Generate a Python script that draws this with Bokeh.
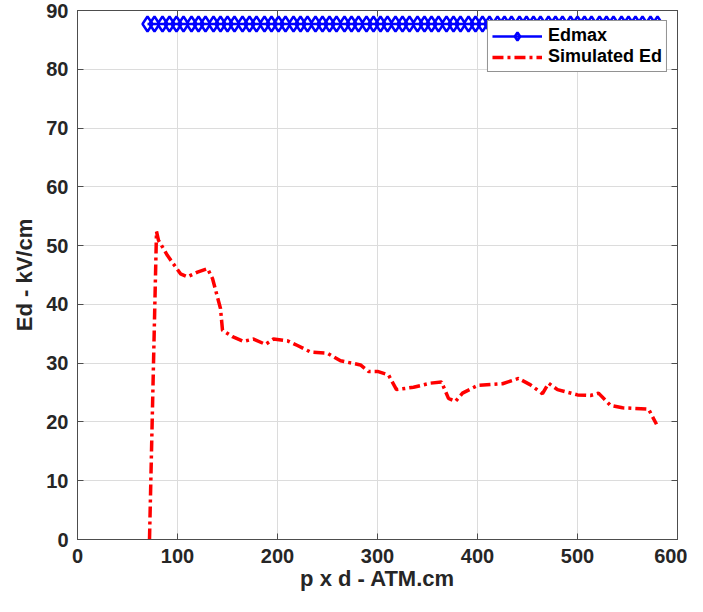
from bokeh.plotting import figure
from bokeh.models import Range1d, LinearAxis, FixedTicker, Legend, LegendItem, CustomJSTickFormatter
from bokeh.embed import file_html
from bokeh.resources import INLINE

# ---- data ----
pd_edmax = [70, 77, 85, 92, 99, 106, 114, 121, 128, 136, 143, 150, 157, 165, 172,
            179, 187, 194, 201, 208, 216, 223, 230, 238, 245, 252, 259, 267, 274,
            281, 289, 296, 303, 310, 318, 325, 332, 340, 347, 354, 361, 369, 376,
            383, 391, 398, 405, 412, 420, 427, 434, 442, 449, 456, 463, 471, 478,
            485, 493, 500, 507, 514, 522, 529, 536, 544, 551, 558, 565, 573, 580]
edmax = [87.7] * len(pd_edmax)

pd_sim = [72, 79, 81, 90, 103, 110, 120, 130, 135, 143, 145, 155, 166, 176, 188,
          196, 210, 220, 233, 250, 263, 283, 291, 300, 311, 319, 336, 353, 364,
          371, 378, 385, 400, 425, 441, 453, 465, 471, 480, 500, 513, 521, 533,
          545, 571, 579]
ed_sim = [0.0, 52.4, 50.9, 48.3, 45.2, 44.7, 45.5, 46.1, 44.4, 39.3, 35.6, 34.5,
          33.7, 34.1, 33.2, 34.1, 33.8, 33.0, 31.9, 31.7, 30.4, 29.7, 28.6, 28.6,
          28.0, 25.5, 25.9, 26.6, 26.8, 24.0, 23.5, 24.9, 26.2, 26.5, 27.4, 26.3,
          24.8, 26.6, 25.5, 24.6, 24.5, 24.9, 22.8, 22.4, 22.2, 19.6]

x_ticks = [0, 100, 200, 300, 400, 500, 600]
y_ticks = [0, 10, 20, 30, 40, 50, 60, 70, 80, 90]

FONT = "Liberation Sans"
TXT = "#262626"
LN = "#4d4d4d"

p = figure(width=687, height=596, x_range=Range1d(0, 600), y_range=Range1d(0, 90),
           output_backend="svg", toolbar_location=None,
           min_border_left=77, min_border_right=10, min_border_top=10,
           min_border_bottom=57)
p.outline_line_color = LN
p.outline_line_alpha = 1.0
p.background_fill_color = "white"
p.border_fill_color = "white"

p.xaxis.ticker = FixedTicker(ticks=x_ticks)
p.yaxis.ticker = FixedTicker(ticks=y_ticks)
for ax in (p.xaxis[0], p.yaxis[0]):
    ax.major_tick_in = 6
    ax.major_tick_out = 0
    ax.minor_tick_line_color = None
    ax.axis_line_color = LN
    ax.major_tick_line_color = LN
    ax.major_label_text_font = FONT
    ax.major_label_text_font_style = "bold"
    ax.major_label_text_font_size = "20px"
    ax.major_label_text_color = TXT
    ax.axis_label_text_font = FONT
    ax.axis_label_text_font_style = "bold"
    ax.axis_label_text_font_size = "22px"
    ax.axis_label_text_color = TXT
p.xaxis.axis_label = "p x d - ATM.cm"
p.yaxis.axis_label = "Ed - kV/cm"
p.xaxis.major_label_standoff = 9
p.yaxis.major_label_standoff = 9
p.xaxis.axis_label_standoff = 0
p.yaxis.axis_label_standoff = 6

# box-style ticks on top and right (no labels)
for loc, tk in (("above", x_ticks), ("right", y_ticks)):
    a = LinearAxis(ticker=FixedTicker(ticks=tk),
                   formatter=CustomJSTickFormatter(code="return ''"))
    a.major_tick_in = 6
    a.major_tick_out = 0
    a.minor_tick_line_color = None
    a.axis_line_color = LN
    a.major_tick_line_color = LN
    a.major_label_standoff = 0
    p.add_layout(a, loc)

p.xgrid.ticker = FixedTicker(ticks=x_ticks)
p.ygrid.ticker = FixedTicker(ticks=y_ticks)
p.grid.grid_line_color = "#dcdcdc"
p.grid.grid_line_width = 1

l1 = p.line(pd_edmax, edmax, line_color="#0000ff", line_width=2.5)
s1 = p.scatter(pd_edmax, edmax, marker="diamond", size=15, line_color="#0000ff",
               fill_color=None, line_width=2.5)
l2 = p.line(pd_sim, ed_sim, line_color="#ff0000", line_width=3.5,
            line_dash="11 4 3 4")

legend = Legend(items=[LegendItem(label="Edmax", renderers=[l1, s1]),
                       LegendItem(label="Simulated Ed", renderers=[l2])],
                location="top_right")
legend.margin = 10
legend.padding = 4
legend.spacing = 0
legend.glyph_width = 50
legend.label_standoff = 6
legend.label_text_font = FONT
legend.label_text_font_style = "bold"
legend.label_text_font_size = "18px"
legend.label_text_color = "black"
legend.border_line_color = "#262626"
legend.border_line_width = 1
legend.background_fill_alpha = 1.0
p.add_layout(legend)

open("out.html", "w").write(file_html(p, INLINE))
